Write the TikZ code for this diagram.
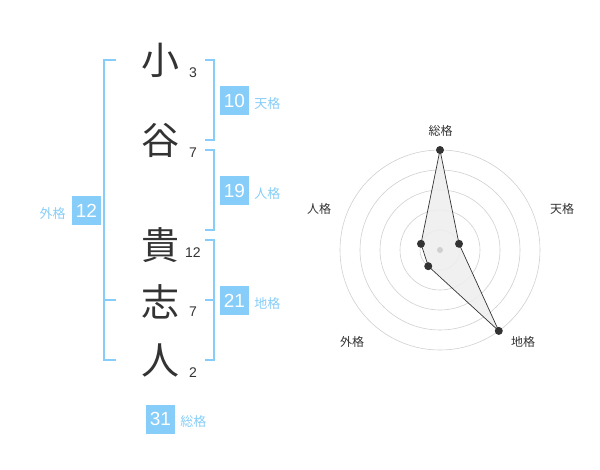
\documentclass[tikz,border=0pt]{standalone}
\usepackage{fontspec}
\setmainfont{Liberation Sans}
\newfontfamily\jp{Noto Sans CJK JP}
\usetikzlibrary{positioning}
\definecolor{skyline}{HTML}{86CDF9}
\definecolor{inkdark}{HTML}{333333}
\definecolor{gridgray}{HTML}{D0D0D0}
\definecolor{areafill}{HTML}{EEEEEE}

\tikzset{
  kanji/.style={text=inkdark, font=\jp\fontsize{38}{38}\selectfont, inner sep=0pt},
  strokes/.style={text=inkdark, font=\fontsize{14}{14}\selectfont, inner sep=0pt},
  scorebox/.style={fill=skyline, text=white, minimum size=29pt, inner sep=0pt, font=\fontsize{19}{19}\selectfont},
  scorelabel/.style={text=skyline, font=\jp\fontsize{13}{13}\selectfont, inner sep=0pt},
  bracket/.style={draw=skyline, line width=2pt},
  axislabel/.style={text=inkdark, font=\jp\fontsize{12}{12}\selectfont, inner sep=0pt},
  dot/.style={circle, fill=inkdark, inner sep=0pt, minimum size=8pt},
}

\begin{document}
\begin{tikzpicture}[x=1pt, y=-1pt]
    \useasboundingbox (0,0) rectangle (600,470);

    % name and stroke counts
    \node[kanji] (c1) at (160,60) {小};
    \node[kanji] (c2) at (160,140) {谷};
    \node[kanji] (c3) at (160,245) {貴};
    \node[kanji] (c4) at (160,302) {志};
    \node[kanji] (c5) at (160,360) {人};

    \node[strokes] (s1) at (193,73) {3};
    \node[strokes] (s2) at (193,153) {7};
    \node[strokes] (s3) at (193,253) {12};
    \node[strokes] (s4) at (193,312) {7};
    \node[strokes] (s5) at (193,373) {2};

    % brackets
    \draw[bracket] (116,60) -- (104,60) -- (104,360) -- (116,360);
    \draw[bracket] (104,300) -- (116,300);
    \draw[bracket] (205,60) -- (214,60) -- (214,140) -- (205,140);
    \draw[bracket] (205,150) -- (214,150) -- (214,230) -- (205,230);
    \draw[bracket] (205,240) -- (214,240) -- (214,360) -- (205,360);
    \draw[bracket] (205,300) -- (214,300);

    % scores
    \node[scorebox] (ten) at (234.5,100.5) {10};
    \node[scorelabel, right=5pt of ten, yshift=-3pt] (tenl) {天格};
    \node[scorebox] (jin) at (234.5,190.5) {19};
    \node[scorelabel, right=5pt of jin, yshift=-3pt] (jinl) {人格};
    \node[scorebox] (chi) at (234.5,300.5) {21};
    \node[scorelabel, right=5pt of chi, yshift=-3pt] (chil) {地格};
    \node[scorebox] (gai) at (86.5,210.5) {12};
    \node[scorelabel, left=6pt of gai, yshift=-3pt] (gail) {外格};
    \node[scorebox] (sou) at (160.5,419) {31};
    \node[scorelabel, right=5pt of sou, yshift=-3pt] (soul) {総格};

    % radar chart
    \begin{scope}[shift={(440,250)}, y=1pt]
        \foreach \r in {20,40,60,80,100}
            \draw[gridgray, line width=0.6pt] (0,0) circle (\r pt);
        \coordinate (p1) at (90:100);
        \coordinate (p2) at (18:20);
        \coordinate (p3) at (-54:100);
        \coordinate (p4) at (-126:20);
        \coordinate (p5) at (162:20);
        \draw[fill=areafill, fill opacity=0.9, draw=inkdark, line width=0.7pt]
            (p1) -- (p2) -- (p3) -- (p4) -- (p5) -- cycle;
        \fill[gridgray] (0,0) circle (3pt);
        \foreach \p in {p1,p2,p3,p4,p5}
            \node[dot] at (\p) {};
    \end{scope}

    \node[axislabel] (a1) at (440.5,130.5) {総格};
    \node[axislabel] (a2) at (562,208.5) {天格};
    \node[axislabel] (a3) at (523,342) {地格};
    \node[axislabel] (a4) at (352,342) {外格};
    \node[axislabel] (a5) at (319,208.5) {人格};
\end{tikzpicture}
\end{document}
